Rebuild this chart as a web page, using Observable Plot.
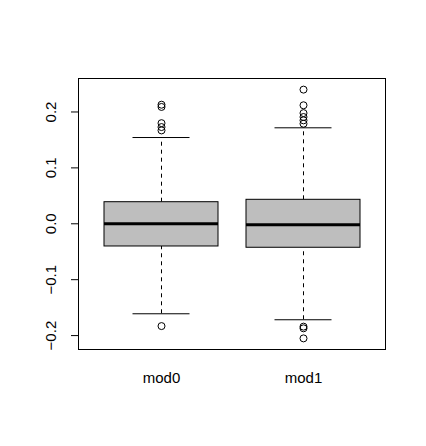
<!DOCTYPE html>
<html>
<head>
<meta charset="utf-8">
<script src="https://cdn.jsdelivr.net/npm/d3@7"></script>
<script src="https://cdn.jsdelivr.net/npm/@observablehq/plot@0.6"></script>
<style>
  html, body { margin: 0; padding: 0; background: #ffffff; }
  #chart svg { display: block; }
</style>
</head>
<body>
<div id="chart"></div>
<script>
// Box statistics
const groups = ["mod0", "mod1"];
const q1 = [-0.0406, -0.0429];
const medians = [0.0, -0.0018];
const q3 = [0.0386, 0.0429];
const whiskerLow = [-0.161, -0.1717];
const whiskerHigh = [0.1543, 0.1717];
const outliersMod0 = [0.213, 0.209, 0.180, 0.173, 0.167, -0.183];
const outliersMod1 = [0.240, 0.212, 0.198, 0.191, 0.185, 0.179, -0.184, -0.187, -0.205];
const yTicks = [-0.2, -0.1, 0.0, 0.1, 0.2];

const boxes = groups.map((g, i) => ({
  name: g, q1: q1[i], median: medians[i], q3: q3[i], lo: whiskerLow[i], hi: whiskerHigh[i]
}));
const outliers = [
  ...outliersMod0.map(v => ({name: "mod0", value: v})),
  ...outliersMod1.map(v => ({name: "mod1", value: v}))
];
const fmt = d3.format(".1f");

const chart = Plot.plot({
  width: 426,
  height: 446,
  marginLeft: 78,
  marginRight: 41,
  marginTop: 78,
  marginBottom: 97,
  style: {fontFamily: "'Liberation Sans', Arial, sans-serif", fontSize: "15px", color: "black", background: "white"},
  x: {type: "band", domain: groups, paddingInner: 0.2, paddingOuter: 0.18, axis: null},
  y: {domain: [-0.2249, 0.2599], axis: null},
  marks: [
    Plot.ruleX(boxes, {x: "name", y1: "q3", y2: "hi", stroke: "black", strokeDasharray: "4,4"}),
    Plot.ruleX(boxes, {x: "name", y1: "lo", y2: "q1", stroke: "black", strokeDasharray: "4,4"}),
    Plot.tickY(boxes, {x: "name", y: "hi", stroke: "black", insetLeft: 28.5, insetRight: 28.5}),
    Plot.tickY(boxes, {x: "name", y: "lo", stroke: "black", insetLeft: 28.5, insetRight: 28.5}),
    Plot.barY(boxes, {x: "name", y1: "q1", y2: "q3", fill: "#bebebe", stroke: "black", strokeWidth: 1}),
    Plot.tickY(boxes, {x: "name", y: "median", stroke: "black", strokeWidth: 3}),
    Plot.dot(outliers, {x: "name", y: "value", r: 3.5, stroke: "black", fill: "none", strokeWidth: 1}),
    Plot.frame({stroke: "black"}),
    Plot.axisY({ticks: yTicks, tickFormat: () => "", tickSize: 7, label: null}),
    Plot.text(yTicks, {y: d => d, text: d => fmt(d), frameAnchor: "left", dx: -27, rotate: -90,
      textAnchor: "middle", lineAnchor: "middle", fontSize: 15, fill: "black"}),
    Plot.text(groups, {x: d => d, text: d => d, frameAnchor: "bottom", dy: 29,
      textAnchor: "middle", lineAnchor: "middle", fontSize: 15, fill: "black"})
  ]
});
document.getElementById("chart").appendChild(chart);
</script>
</body>
</html>
